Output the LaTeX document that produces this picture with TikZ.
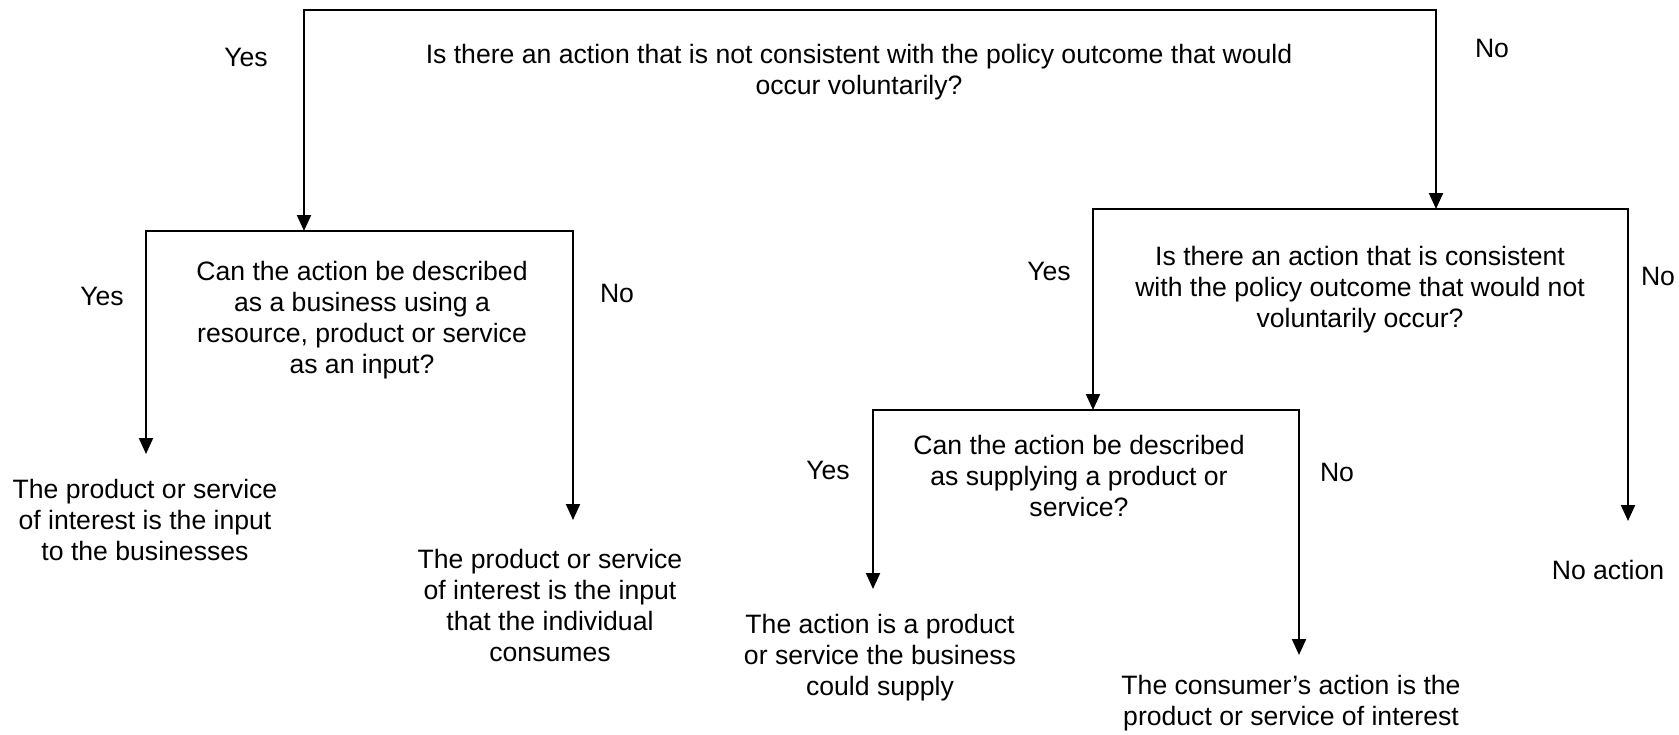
\documentclass[tikz,border=0pt]{standalone}
\usepackage{fontspec}
\setmainfont{Liberation Sans}
\usetikzlibrary{arrows.meta}
\begin{document}
\begin{tikzpicture}[x=0.5pt,y=-0.5pt,
  wire/.style={line width=1pt,line cap=rect,line join=miter},
  flow/.style={line width=1pt,line join=miter,-{Triangle[length=8pt,width=7pt]}},
  txt/.style={align=center,inner sep=0pt,font=\fontsize{13.3}{15.5}\selectfont},
  lbl/.style={inner sep=0pt,font=\fontsize{13.3}{15.5}\selectfont}]
\useasboundingbox (0,0) rectangle (1679,734);

% frame corners and arrow targets
\coordinate (q1L) at (304,10);   \coordinate (q1R) at (1436,10);
\coordinate (q2L) at (146,231);  \coordinate (q2R) at (573,231);  \coordinate (q2in) at (304,231);
\coordinate (q3L) at (1093,209); \coordinate (q3R) at (1628,209); \coordinate (q3in) at (1436,209);
\coordinate (q4L) at (873,410);  \coordinate (q4R) at (1299,410); \coordinate (q4in) at (1093,410);
\coordinate (l1top) at (146,454);
\coordinate (l2top) at (573,520);
\coordinate (l3top) at (873,589);
\coordinate (l4top) at (1299,655);
\coordinate (l5top) at (1628,521);

% questions
\node[txt] (q1) at (859,72) {Is there an action that is not consistent with the policy outcome that would\\occur voluntarily?};
\node[txt] (q2) at (362,320) {Can the action be described\\as a business using a\\resource, product or service\\as an input?};
\node[txt] (q3) at (1360,290) {Is there an action that is consistent\\with the policy outcome that would not\\voluntarily occur?};
\node[txt] (q4) at (1079,476) {Can the action be described\\as supplying a product or\\service?};

% outcomes
\node[txt] (l1) at (145,520) {The product or service\\of interest is the input\\to the businesses};
\node[txt] (l2) at (550,605) {The product or service\\of interest is the input\\that the individual\\consumes};
\node[txt] (l3) at (880,658) {The action is a product\\or service the business\\could supply};
\node[txt] (l4) at (1291,703) {The consumer’s action is the\\product or service of interest};
\node[txt] (l5) at (1608,570) {No action};

% branch labels
\node[lbl] (y1) at (246,57) {Yes};
\node[lbl] (n1) at (1492,48) {No};
\node[lbl] (y2) at (102,296) {Yes};
\node[lbl] (n2) at (617,293) {No};
\node[lbl] (y3) at (1049,271) {Yes};
\node[lbl] (n3) at (1658,276) {No};
\node[lbl] (y4) at (828,470) {Yes};
\node[lbl] (n4) at (1337,472) {No};

% connectors
\draw[wire] (q1L) -- (q1R);
\draw[flow] (q1L) -- (q2in);
\draw[flow] (q1R) -- (q3in);

\draw[wire] (q2L) -- (q2R);
\draw[flow] (q2L) -- (l1top);
\draw[flow] (q2R) -- (l2top);

\draw[wire] (q3L) -- (q3R);
\draw[flow] (q3L) -- (q4in);
\draw[flow] (q3R) -- (l5top);

\draw[wire] (q4L) -- (q4R);
\draw[flow] (q4L) -- (l3top);
\draw[flow] (q4R) -- (l4top);
\end{tikzpicture}
\end{document}
